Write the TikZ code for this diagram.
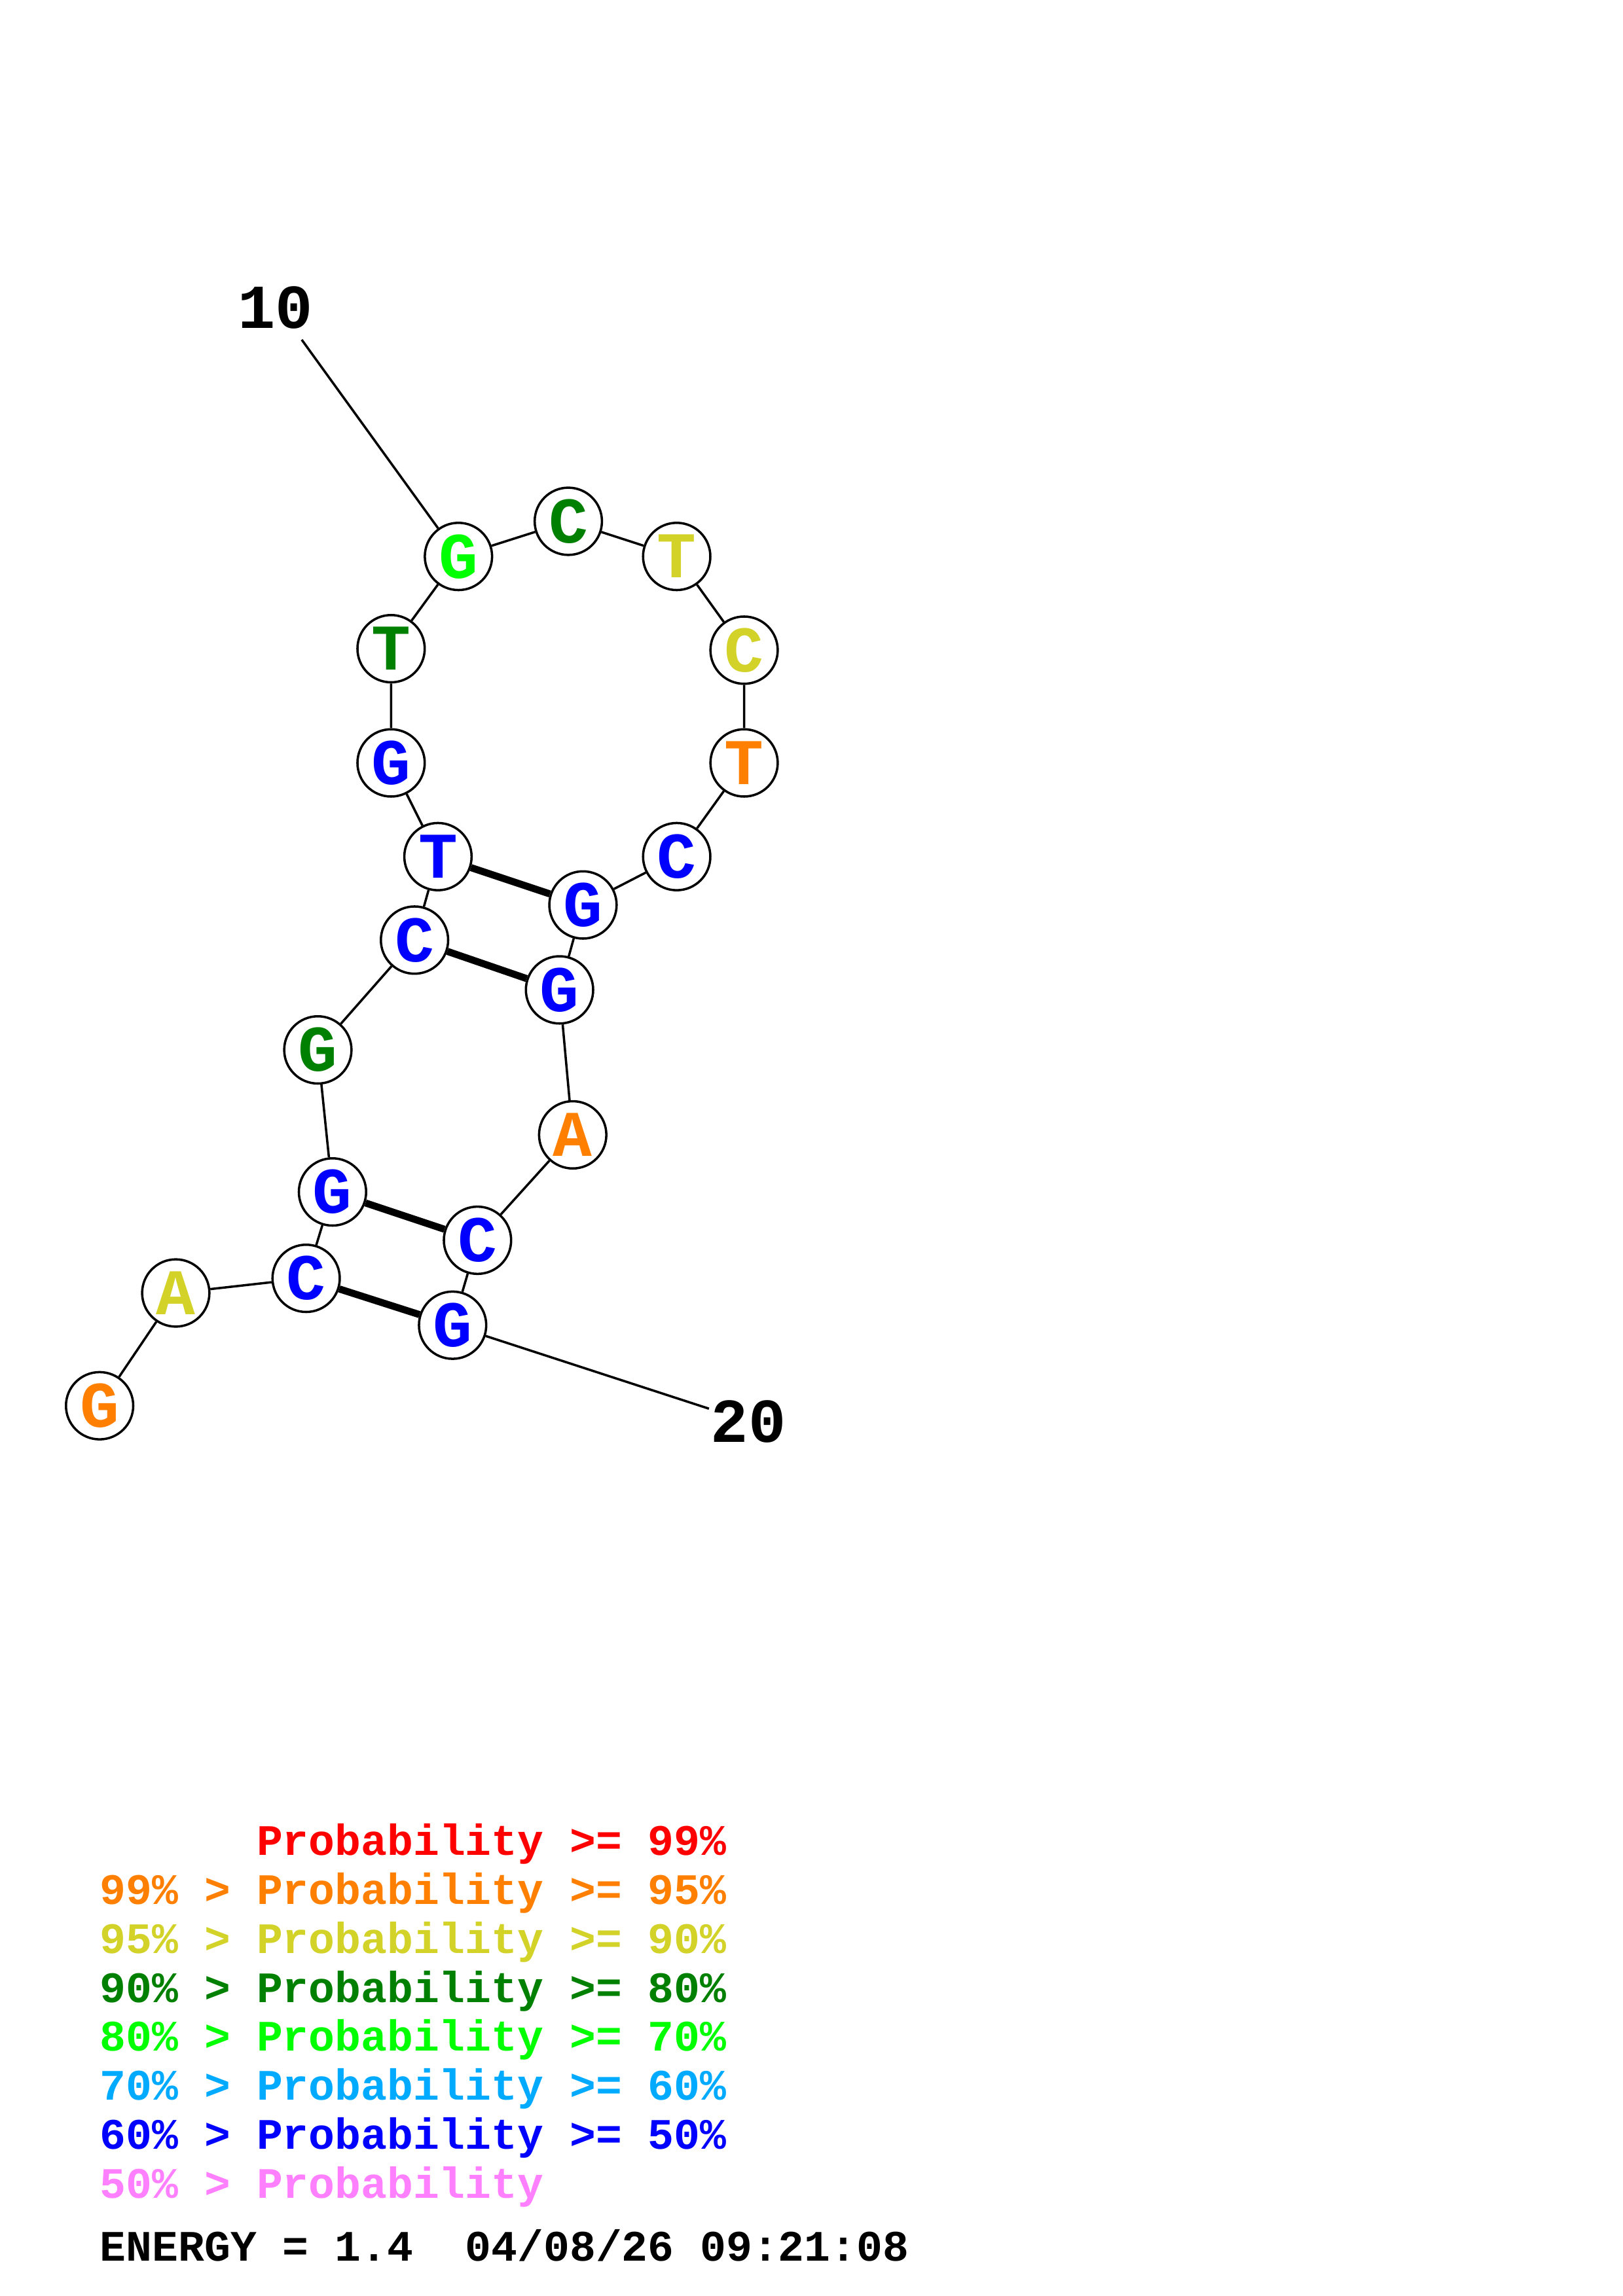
\documentclass[tikz,border=0pt]{standalone}
\usepackage{fontspec}
\setmainfont{Liberation Mono}
\usepackage{tikz}
\definecolor{pred}{RGB}{255,0,0}
\definecolor{porange}{RGB}{255,128,0}
\definecolor{pyellow}{RGB}{210,210,40}
\definecolor{pdkgreen}{RGB}{0,128,0}
\definecolor{pgreen}{RGB}{0,255,0}
\definecolor{pltblue}{RGB}{0,170,255}
\definecolor{pblue}{RGB}{0,0,255}
\definecolor{ppink}{RGB}{255,128,255}
\tikzstyle{base} = [circle, draw=black, line width=0.85pt, fill=white, minimum size=8.7mm, inner sep=0pt, font=\fontsize{24}{24}\selectfont\bfseries]
\tikzstyle{backbone} = [line width=0.85pt]
\tikzstyle{pair} = [line width=2.6pt]
\tikzstyle{endlabel} = [inner sep=1pt, font=\fontsize{23}{23}\selectfont\bfseries]
\tikzstyle{legend} = [anchor=base west, inner sep=0pt, font=\fontsize{16}{16}\selectfont\bfseries]

\begin{document}
\begin{tikzpicture}[x=0.18944mm, y=-0.18944mm]
\useasboundingbox (0,0) rectangle (1108,1568);
\fill[white] (0,0) rectangle (1108,1568);

% Bases
\node (n1) [base, text=porange] at (68,960) {G};
\node (n2) [base, text=pyellow] at (120,883) {A};
\node (n3) [base, text=pblue] at (209,873) {C};
\node (n4) [base, text=pblue] at (227,814) {G};
\node (n5) [base, text=pdkgreen] at (217,717) {G};
\node (n6) [base, text=pblue] at (283,642) {C};
\node (n7) [base, text=pblue] at (299,585) {T};
\node (n8) [base, text=pblue] at (267,521) {G};
\node (n9) [base, text=pdkgreen] at (267,443) {T};
\node (n10) [base, text=pgreen] at (313,380) {G};
\node (n11) [base, text=pdkgreen] at (388,356) {C};
\node (n12) [base, text=pyellow] at (462,380) {T};
\node (n13) [base, text=pyellow] at (508,444) {C};
\node (n14) [base, text=porange] at (508,521) {T};
\node (n15) [base, text=pblue] at (462,585) {C};
\node (n16) [base, text=pblue] at (398,618) {G};
\node (n17) [base, text=pblue] at (382,676) {G};
\node (n18) [base, text=porange] at (391,775) {A};
\node (n19) [base, text=pblue] at (326,847) {C};
\node (n20) [base, text=pblue] at (309,905) {G};

% Position labels
\node (lab10) [endlabel] at (188,210) {10};
\node (lab20) [endlabel] at (511,971) {20};
\coordinate (tail10) at (206,232);
\coordinate (tail20) at (484,962);

% Backbone
\draw [backbone] (n1) -- (n2) -- (n3) -- (n4) -- (n5) -- (n6) -- (n7) -- (n8) -- (n9) -- (n10);
\draw [backbone] (n10) -- (n11) -- (n12) -- (n13) -- (n14) -- (n15) -- (n16) -- (n17) -- (n18) -- (n19) -- (n20);
\draw [backbone] (tail10) -- (n10);
\draw [backbone] (n20) -- (tail20);

% Pairs
\draw [pair] (n7) -- (n16);
\draw [pair] (n6) -- (n17);
\draw [pair] (n4) -- (n19);
\draw [pair] (n3) -- (n20);

% Legend
\node (leg1) [legend, text=pred] at (68,1267) {\phantom{99\% > }Probability >= 99\%};
\node (leg2) [legend, text=porange] at (68,1300.4) {99\% > Probability >= 95\%};
\node (leg3) [legend, text=pyellow] at (68,1333.9) {95\% > Probability >= 90\%};
\node (leg4) [legend, text=pdkgreen] at (68,1367.3) {90\% > Probability >= 80\%};
\node (leg5) [legend, text=pgreen] at (68,1400.7) {80\% > Probability >= 70\%};
\node (leg6) [legend, text=pltblue] at (68,1434.2) {70\% > Probability >= 60\%};
\node (leg7) [legend, text=pblue] at (68,1467.6) {60\% > Probability >= 50\%};
\node (leg8) [legend, text=ppink] at (68,1501) {50\% > Probability};
\node (energy) [legend, text=black] at (68,1544) {ENERGY = 1.4\ \ 04/08/26 09:21:08};
\end{tikzpicture}
\end{document}
